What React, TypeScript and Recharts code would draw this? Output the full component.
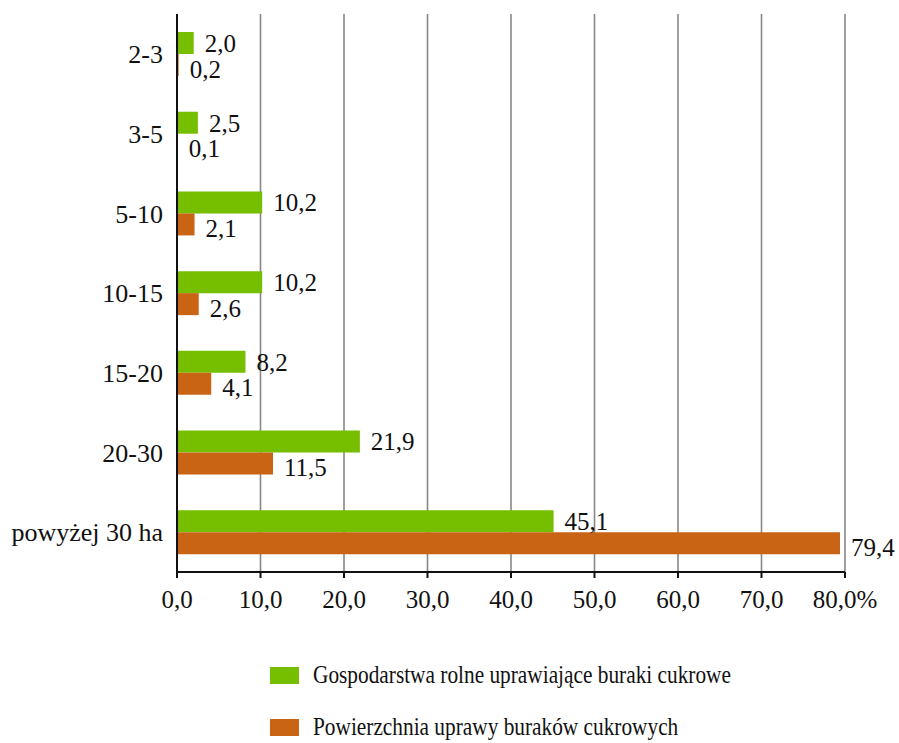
import React from 'react';
import { BarChart, Bar, XAxis, YAxis, CartesianGrid, LabelList } from 'recharts';

const categories = ['2-3', '3-5', '5-10', '10-15', '15-20', '20-30', 'powyżej 30 ha'];
const gospodarstwa = [2.0, 2.5, 10.2, 10.2, 8.2, 21.9, 45.1];
const powierzchnia = [0.2, 0.1, 2.1, 2.6, 4.1, 11.5, 79.4];
const xTicks = [0, 10, 20, 30, 40, 50, 60, 70, 80];
const bandTicks = [0, 1, 2, 3, 4, 5, 6, 7];
const seriesNames = ['Gospodarstwa rolne uprawiające buraki cukrowe', 'Powierzchnia uprawy buraków cukrowych'];
const colors = ['#76BE00', '#C86414'];

const data = categories.map((c, i) => ({ cat: c, g: gospodarstwa[i], p: powierzchnia[i] }));

const FONT = '"Liberation Serif", "Times New Roman", serif';
const fmt = (v: number) => v.toFixed(1).replace('.', ',');

const labelStyle = { fontSize: 25, fill: '#111', fontFamily: FONT };

const OrangeLabel = (props: any) => {
  const { x, y, width, height, value } = props;
  return (
    <text x={x + width + 11} y={y + height / 2 + 4} dominantBaseline="central" style={labelStyle}>
      {fmt(value)}
    </text>
  );
};

export default function App() {
  return (
    <div style={{ position: 'absolute', left: 0, top: 0, width: 899, height: 743, background: '#fff', fontFamily: FONT }}>
      <BarChart
        width={899}
        height={743}
        data={data}
        layout="vertical"
        margin={{ top: 14, right: 54, bottom: 131, left: 0 }}
        barGap={0}
        barSize={22}
      >
        <CartesianGrid horizontal={false} vertical={true} stroke="#878787" strokeWidth={1.6} />
        <XAxis
          type="number"
          domain={[0, 80]}
          ticks={xTicks}
          interval={0}
          height={40}
          tickFormatter={(v: number) => fmt(v) + (v === 80 ? '%' : '')}
          tick={{ fontSize: 25, fill: '#111', fontFamily: FONT }}
          axisLine={{ stroke: '#111', strokeWidth: 2 }}
          tickLine={{ stroke: '#111', strokeWidth: 2 }}
          tickSize={6}
          tickMargin={12}
        />
        <YAxis
          yAxisId="band"
          type="number"
          domain={[0, 7]}
          ticks={bandTicks}
          interval={0}
          width={0}
          tick={false}
          axisLine={false}
          tickLine={{ stroke: '#111', strokeWidth: 2 }}
          tickSize={7}
        />
        <YAxis
          yAxisId="cat"
          type="category"
          dataKey="cat"
          width={177}
          tick={{ fontSize: 26, fill: '#111', fontFamily: FONT }}
          axisLine={{ stroke: '#111', strokeWidth: 2 }}
          tickLine={false}
          tickMargin={8}
        />
        <Bar yAxisId="cat" dataKey="g" fill={colors[0]} isAnimationActive={false}>
          <LabelList dataKey="g" position="right" offset={11} formatter={(v: number) => fmt(v)} style={labelStyle} />
        </Bar>
        <Bar yAxisId="cat" dataKey="p" fill={colors[1]} isAnimationActive={false}>
          <LabelList dataKey="p" content={OrangeLabel} />
        </Bar>
      </BarChart>
      <div style={{ position: 'absolute', left: 270, top: 661, fontSize: 26, color: '#111', fontFamily: FONT }}>
        {seriesNames.map((n, i) => (
          <div key={n} style={{ display: 'flex', alignItems: 'center', height: 28, marginBottom: i === 0 ? 24 : 0 }}>
            <span style={{ display: 'inline-block', width: 29, height: 17, background: colors[i], marginRight: 14, flex: 'none' }} />
            <span style={{ display: 'inline-block', whiteSpace: 'nowrap', transform: 'scaleX(0.82)', transformOrigin: 'left center' }}>{n}</span>
          </div>
        ))}
      </div>
    </div>
  );
}
